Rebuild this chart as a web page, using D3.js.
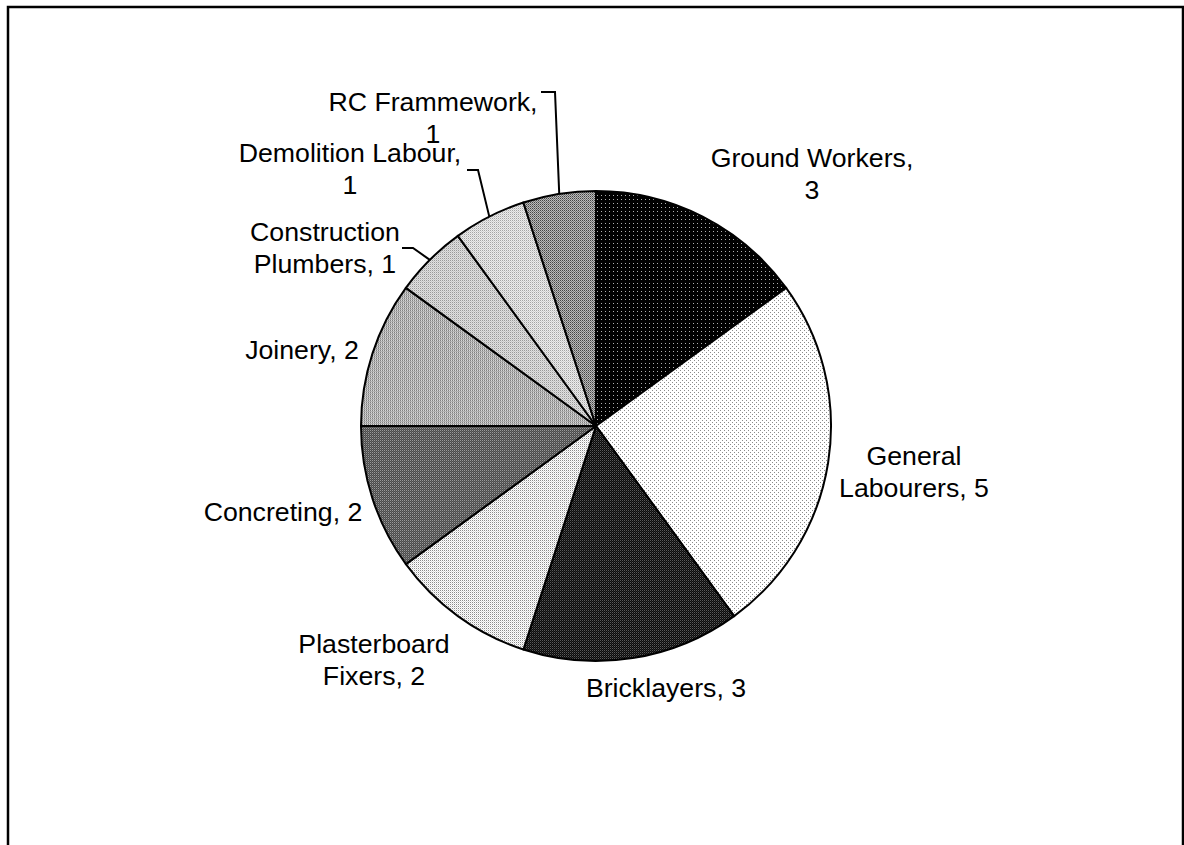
<!DOCTYPE html>
<html>
<head>
<meta charset="utf-8">
<script src="https://cdn.jsdelivr.net/npm/d3@7"></script>
<style>
  html, body { margin: 0; padding: 0; background: #fff; }
  svg { display: block; }
  text { font-family: "Liberation Sans", Arial, sans-serif; font-size: 26.7px; fill: #000; }
</style>
</head>
<body>
<svg id="chart" width="1184" height="845"></svg>
<script>
// ---- data ----
const categories = ["Ground Workers", "General Labourers", "Bricklayers", "Plasterboard Fixers",
  "Concreting", "Joinery", "Construction Plumbers", "Demolition Labour", "RC Frammework"];
const values = [3, 5, 3, 2, 2, 2, 1, 1, 1];
const labelLines = [
  ["Ground Workers,", "3"],
  ["General", "Labourers, 5"],
  ["Bricklayers, 3"],
  ["Plasterboard", "Fixers, 2"],
  ["Concreting, 2"],
  ["Joinery, 2"],
  ["Construction", "Plumbers, 1"],
  ["Demolition Labour,", "1"],
  ["RC Frammework,", "1"]
];

// ---- layout (label first-line centres, leader elbows) ----
const labelPos = [
  [812, 158], [914, 456], [666, 688], [374, 644], [283, 512],
  [302, 350], [325, 232], [350, 153], [433, 102]
];
const leaders = { 6: [[402, 248], [413, 248]], 7: [[467, 170], [478, 170]], 8: [[541, 92], [555, 92]] };

const svg = d3.select("#chart");
const cx = 596, cy = 426, R = 235;

// patterns
const defs = svg.append("defs");
function pat(id, w, h, bg, cells) {
  const p = defs.append("pattern").attr("id", id).attr("patternUnits", "userSpaceOnUse")
    .attr("width", w).attr("height", h);
  p.append("rect").attr("width", w).attr("height", h).attr("fill", bg).attr("shape-rendering", "crispEdges");
  cells.forEach(c => p.append("rect").attr("x", c[0]).attr("y", c[1]).attr("width", 1).attr("height", 1)
    .attr("fill", c[2]).attr("shape-rendering", "crispEdges"));
}
pat("p0", 4, 4, "#000", [[1, 1, "#b0b0b0"]]);
pat("p1", 4, 4, "#fff", [[0, 0, "#8a8a8a"], [2, 2, "#8a8a8a"]]);
pat("p2", 2, 2, "#0a0a0a", [[0, 0, "#5a5a5a"], [1, 1, "#2a2a2a"]]);
pat("p3", 2, 2, "#fff", [[0, 0, "#8c8c8c"], [1, 1, "#ddd"]]);
pat("p4", 2, 2, "#4a4a4a", [[0, 0, "#9a9a9a"], [1, 1, "#666"]]);
pat("p5", 2, 2, "#b0b0b0", [[0, 0, "#808080"], [1, 0, "#d8d8d8"]]);
pat("p6", 2, 2, "#e0e0e0", [[0, 0, "#999"], [1, 1, "#c8c8c8"]]);
pat("p7", 2, 2, "#ececec", [[0, 0, "#a4a4a4"], [1, 1, "#d0d0d0"]]);
pat("p8", 2, 2, "#bbbbbb", [[0, 0, "#444"], [1, 1, "#777"]]);

// frame
svg.append("rect").attr("x", 8).attr("y", 7).attr("width", 1175).attr("height", 860)
  .attr("fill", "none").attr("stroke", "#000").attr("stroke-width", 2.5);

const pie = d3.pie().sort(null).value(d => d.v).startAngle(0).endAngle(2 * Math.PI);
const arcs = pie(values.map((v, i) => ({ v, i })));
const arc = d3.arc().innerRadius(0).outerRadius(R);

const g = svg.append("g").attr("transform", `translate(${cx},${cy})`);
g.selectAll("path").data(arcs).join("path")
  .attr("d", arc)
  .attr("fill", d => `url(#p${d.data.i})`)
  .attr("stroke", "#000").attr("stroke-width", 2).attr("stroke-linejoin", "round");

// leader lines
arcs.forEach(a => {
  const pts = leaders[a.data.i];
  if (!pts) return;
  const mid = (a.startAngle + a.endAngle) / 2;
  const edge = [cx + R * Math.sin(mid), cy - R * Math.cos(mid)];
  svg.append("path").attr("d", d3.line()([...pts, edge]))
    .attr("fill", "none").attr("stroke", "#000").attr("stroke-width", 2);
});

// labels
const lh = 32;
labelLines.forEach((lines, i) => {
  const [x, y] = labelPos[i];
  const t = svg.append("text").attr("text-anchor", "middle");
  lines.forEach((s, k) => {
    t.append("tspan").attr("x", x).attr("y", y + k * lh).attr("dy", "0.35em").text(s);
  });
});
</script>
</body>
</html>
